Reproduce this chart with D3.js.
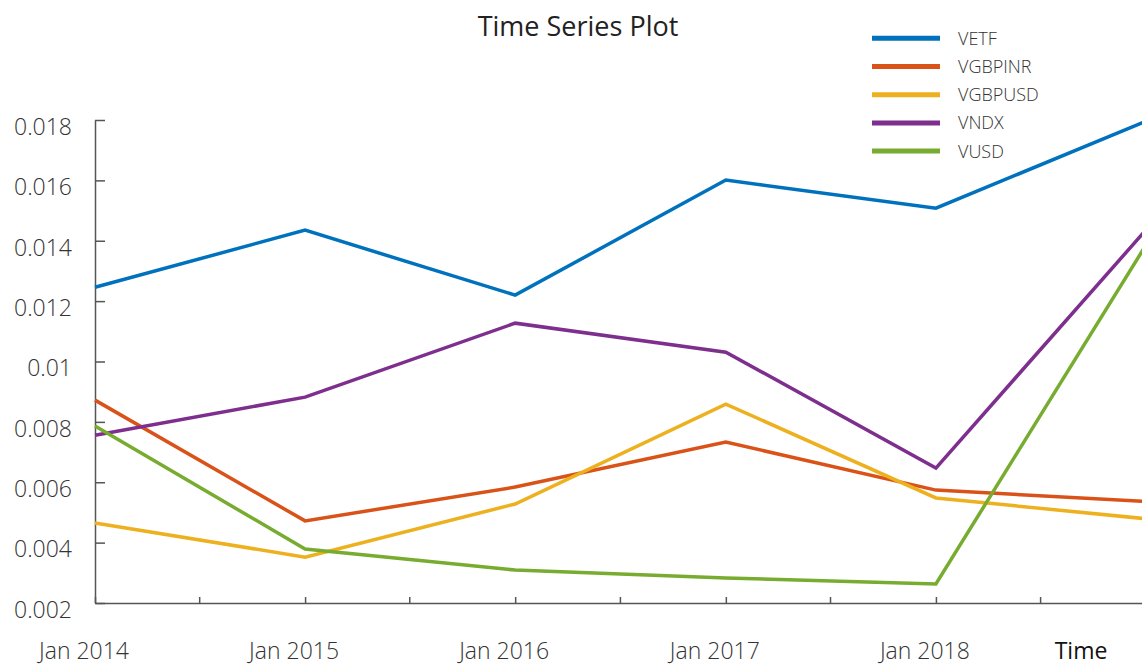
<!DOCTYPE html>
<html>
<head>
<meta charset="utf-8">
<script src="https://cdn.jsdelivr.net/npm/d3@7"></script>
<style>
  body { margin: 0; background: #fff; }
  svg { display: block; font-family: 'Open Sans', sans-serif; }
</style>
</head>
<body>
<svg id="chart" width="1142" height="666"></svg>
<script>
var dates = ['2014-01-01', '2015-01-01', '2016-01-01', '2017-01-01', '2018-01-01', '2019-01-01'];

var seriesNames = ['VETF', 'VGBPINR', 'VGBPUSD', 'VNDX', 'VUSD'];
var seriesColors = ['#0072BD', '#D95319', '#EDB120', '#7E2F8E', '#77AC30'];

var VETF    = [0.01246, 0.01435, 0.01220, 0.01601, 0.01508, 0.01796];
var VGBPINR = [0.00872, 0.00472, 0.00584, 0.00733, 0.00574, 0.00536];
var VGBPUSD = [0.00465, 0.00352, 0.00528, 0.00859, 0.00548, 0.00479];
var VNDX    = [0.00756, 0.00882, 0.01127, 0.01031, 0.00647, 0.01436];
var VUSD    = [0.00786, 0.00379, 0.00309, 0.00283, 0.00263, 0.01386];

var yTicks = [0.002, 0.004, 0.006, 0.008, 0.01, 0.012, 0.014, 0.016, 0.018];
var xTickLabels = ['Jan 2014', 'Jan 2015', 'Jan 2016', 'Jan 2017', 'Jan 2018'];

var values = [VETF, VGBPINR, VGBPUSD, VNDX, VUSD];
var parse = d3.timeParse('%Y-%m-%d');

var series = seriesNames.map(function(name, i) {
  return {
    name: name,
    color: seriesColors[i],
    points: dates.map(function(d, j) { return { date: parse(d), value: values[i][j] }; })
  };
});

var svg = d3.select('#chart');

// plot box edges (window.top is reserved, so use other names)
var plotLeft = 95, plotBottom = 603, plotTop = 120;

var x = d3.scaleTime()
    .domain([parse(dates[0]), parse(dates[dates.length - 1])])
    .range([plotLeft, 1146]);

var y = d3.scaleLinear()
    .domain([0.002, 0.018])
    .range([plotBottom, plotTop]);

// title
svg.append('text')
  .attr('x', 578)
  .attr('y', 36)
  .attr('text-anchor', 'middle')
  .attr('fill', '#222')
  .style('font-size', '27px')
  .text('Time Series Plot');

// y axis, ticks pointing inward
var yAxis = svg.append('g')
  .attr('transform', 'translate(' + plotLeft + ',0)')
  .call(d3.axisLeft(y).tickValues(yTicks).tickSize(-10).tickSizeOuter(0).tickFormat(d3.format('~g')))
  .attr('font-family', null)
  .attr('font-size', null);

yAxis.select('.domain').attr('stroke', '#555').attr('stroke-width', 1.5);
yAxis.selectAll('.tick line').attr('stroke', '#555').attr('stroke-width', 1.5);
yAxis.selectAll('.tick text')
  .attr('x', -23)
  .attr('dy', '0.62em')
  .attr('fill', '#333')
  .style('font-size', '23px')
  .style('font-weight', 300);

// x axis: yearly labels plus half year ticks
var halfYears = d3.timeMonth.every(6).range(parse(dates[0]), d3.timeDay.offset(x.domain()[1], 1));

var xAxis = svg.append('g')
  .attr('transform', 'translate(0,' + plotBottom + ')')
  .call(d3.axisBottom(x).tickValues(halfYears).tickSize(-6).tickSizeOuter(0).tickFormat(''));

xAxis.select('.domain').attr('stroke', '#555').attr('stroke-width', 1.5);
xAxis.selectAll('.tick line').attr('stroke', '#555').attr('stroke-width', 1.5);

svg.append('g').selectAll('text')
  .data(xTickLabels)
  .enter().append('text')
  .attr('x', function(d, i) { return x(parse(dates[i])) - 11; })
  .attr('y', 659)
  .attr('text-anchor', 'middle')
  .attr('fill', '#333')
  .style('font-size', '23px')
  .style('font-weight', 300)
  .text(function(d) { return d; });

svg.append('text')
  .attr('x', 1081)
  .attr('y', 659)
  .attr('text-anchor', 'middle')
  .attr('fill', '#111')
  .style('font-size', '23px')
  .text('Time');

// lines
var line = d3.line()
  .x(function(d) { return x(d.date); })
  .y(function(d) { return y(d.value); });

svg.append('g').selectAll('path')
  .data(series)
  .enter().append('path')
  .attr('fill', 'none')
  .attr('stroke', function(d) { return d.color; })
  .attr('stroke-width', 3.5)
  .attr('d', function(d) { return line(d.points); });

// legend
var legend = svg.append('g').selectAll('g')
  .data(series)
  .enter().append('g')
  .attr('transform', function(d, i) { return 'translate(872,' + (38.3 + i * 28.2) + ')'; });

legend.append('line')
  .attr('x1', 0).attr('x2', 68)
  .attr('stroke', function(d) { return d.color; })
  .attr('stroke-width', 5);

legend.append('text')
  .attr('x', 86)
  .attr('dy', '0.36em')
  .attr('fill', '#333')
  .style('font-size', '18px')
  .style('font-weight', 300)
  .text(function(d) { return d.name; });
</script>
</body>
</html>
